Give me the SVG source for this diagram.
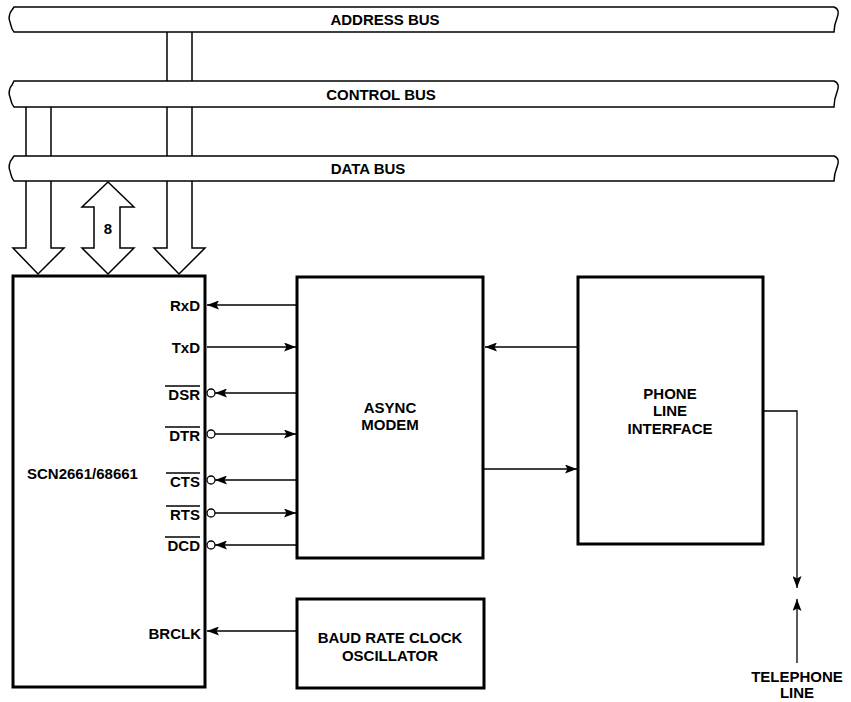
<svg xmlns="http://www.w3.org/2000/svg" width="851" height="702" viewBox="0 0 851 702">
<style>
text{font-family:"Liberation Sans",Arial,sans-serif;font-weight:bold;font-size:15px;fill:#000}
.c{text-anchor:middle}
.r{text-anchor:end}
.box{fill:#fff;stroke:#000;stroke-width:3}
.hollow{fill:#fff;stroke:#000;stroke-width:1.5;stroke-linejoin:miter}
.bus{fill:#fff;stroke:#000;stroke-width:1.5}
.ln{fill:none;stroke:#000;stroke-width:1.3}
.bub{fill:#fff;stroke:#000;stroke-width:1.3}
</style>
<defs>
<marker id="ah" viewBox="0 0 12 9" refX="12" refY="4.5" markerWidth="12" markerHeight="9" markerUnits="userSpaceOnUse" orient="auto">
<path d="M0,0 L12,4.5 L0,9 L2.5,4.5 Z" fill="#000"/>
</marker>
</defs>
<g id="stems">
<polygon class="hollow" points="167,30 167,248 154,248 179,274 205,248 192,248 192,30"/>
<polygon class="hollow" points="26,105 26,248 13,248 38,274 64,248 51,248 51,105"/>
<polygon class="hollow" points="108,182 134,207 120,207 120,248 134,248 108,274 82,248 94,248 94,207 82,207"/>
<text class="c" x="108" y="234">8</text>
</g>
<g id="address-bus">
<path class="bus" d="M14,7 L834,7 C839,9 839,13 837,18 C835,23 834,28 834,32 L14,32 C11,29 11,25 10,22 C8,18 10,12 12,10 Z"/>
<text class="c" x="385" y="25">ADDRESS BUS</text>
</g>
<g id="control-bus">
<path class="bus" d="M14,81 L834,81 C839,83 839,87 837,92 C835,97 834,102 834,107 L14,107 C11,104 11,100 10,97 C8,93 10,87 12,85 Z"/>
<text class="c" x="381" y="100">CONTROL BUS</text>
</g>
<g id="data-bus">
<path class="bus" d="M14,156 L834,156 C839,158 839,162 837,167 C835,172 834,177 834,181 L14,181 C11,178 11,174 10,171 C8,167 10,161 12,159 Z"/>
<text class="c" x="368" y="174">DATA BUS</text>
</g>
<g id="chip">
<rect class="box" x="13" y="276" width="192" height="411"/>
<text x="27" y="479">SCN2661/68661</text>
<text class="r" x="200" y="311">RxD</text>
<text class="r" x="200" y="353">TxD</text>
<text class="r" x="200" y="400">DSR</text>
<text class="r" x="200" y="441">DTR</text>
<text class="r" x="200" y="487">CTS</text>
<text class="r" x="200" y="520">RTS</text>
<text class="r" x="200" y="551">DCD</text>
<text class="r" x="201" y="639">BRCLK</text>
<g class="ln">
<line x1="165" y1="386" x2="200" y2="386"/>
<line x1="165" y1="427" x2="200" y2="427"/>
<line x1="166" y1="473" x2="200" y2="473"/>
<line x1="166" y1="506" x2="200" y2="506"/>
<line x1="165" y1="537" x2="200" y2="537"/>
</g>
</g>
<g id="modem">
<rect class="box" x="297" y="277" width="186" height="281"/>
<text class="c" x="390" y="413">ASYNC</text>
<text class="c" x="390" y="430">MODEM</text>
</g>
<g id="phone">
<rect class="box" x="578" y="277" width="185" height="267"/>
<text class="c" x="670" y="399">PHONE</text>
<text class="c" x="670" y="416">LINE</text>
<text class="c" x="670" y="434">INTERFACE</text>
</g>
<g id="baud">
<rect class="box" x="297" y="599" width="187" height="89"/>
<text class="c" x="390" y="643">BAUD RATE CLOCK</text>
<text class="c" x="390" y="661">OSCILLATOR</text>
</g>
<g id="telephone">
<text class="c" x="797" y="682">TELEPHONE</text>
<text class="c" x="797" y="698">LINE</text>
</g>
<g id="connectors">
<g class="bub">
<circle cx="211" cy="393" r="4"/>
<circle cx="211" cy="434" r="4"/>
<circle cx="211" cy="480" r="4"/>
<circle cx="211" cy="513" r="4"/>
<circle cx="211" cy="545" r="4"/>
</g>
<g class="ln">
<line x1="297" y1="305" x2="207" y2="305" marker-end="url(#ah)"/>
<line x1="207" y1="347" x2="296" y2="347" marker-end="url(#ah)"/>
<line x1="297" y1="393" x2="215" y2="393" marker-end="url(#ah)"/>
<line x1="215" y1="434" x2="296" y2="434" marker-end="url(#ah)"/>
<line x1="297" y1="480" x2="215" y2="480" marker-end="url(#ah)"/>
<line x1="215" y1="513" x2="296" y2="513" marker-end="url(#ah)"/>
<line x1="297" y1="545" x2="215" y2="545" marker-end="url(#ah)"/>
<line x1="297" y1="631" x2="207" y2="631" marker-end="url(#ah)"/>
<line x1="578" y1="347" x2="485" y2="347" marker-end="url(#ah)"/>
<line x1="483" y1="469" x2="577" y2="469" marker-end="url(#ah)"/>
<polyline points="763,411 797,411 797,588" marker-end="url(#ah)"/>
<line x1="797" y1="663" x2="797" y2="599" marker-end="url(#ah)"/>
</g>
</g>
</svg>
